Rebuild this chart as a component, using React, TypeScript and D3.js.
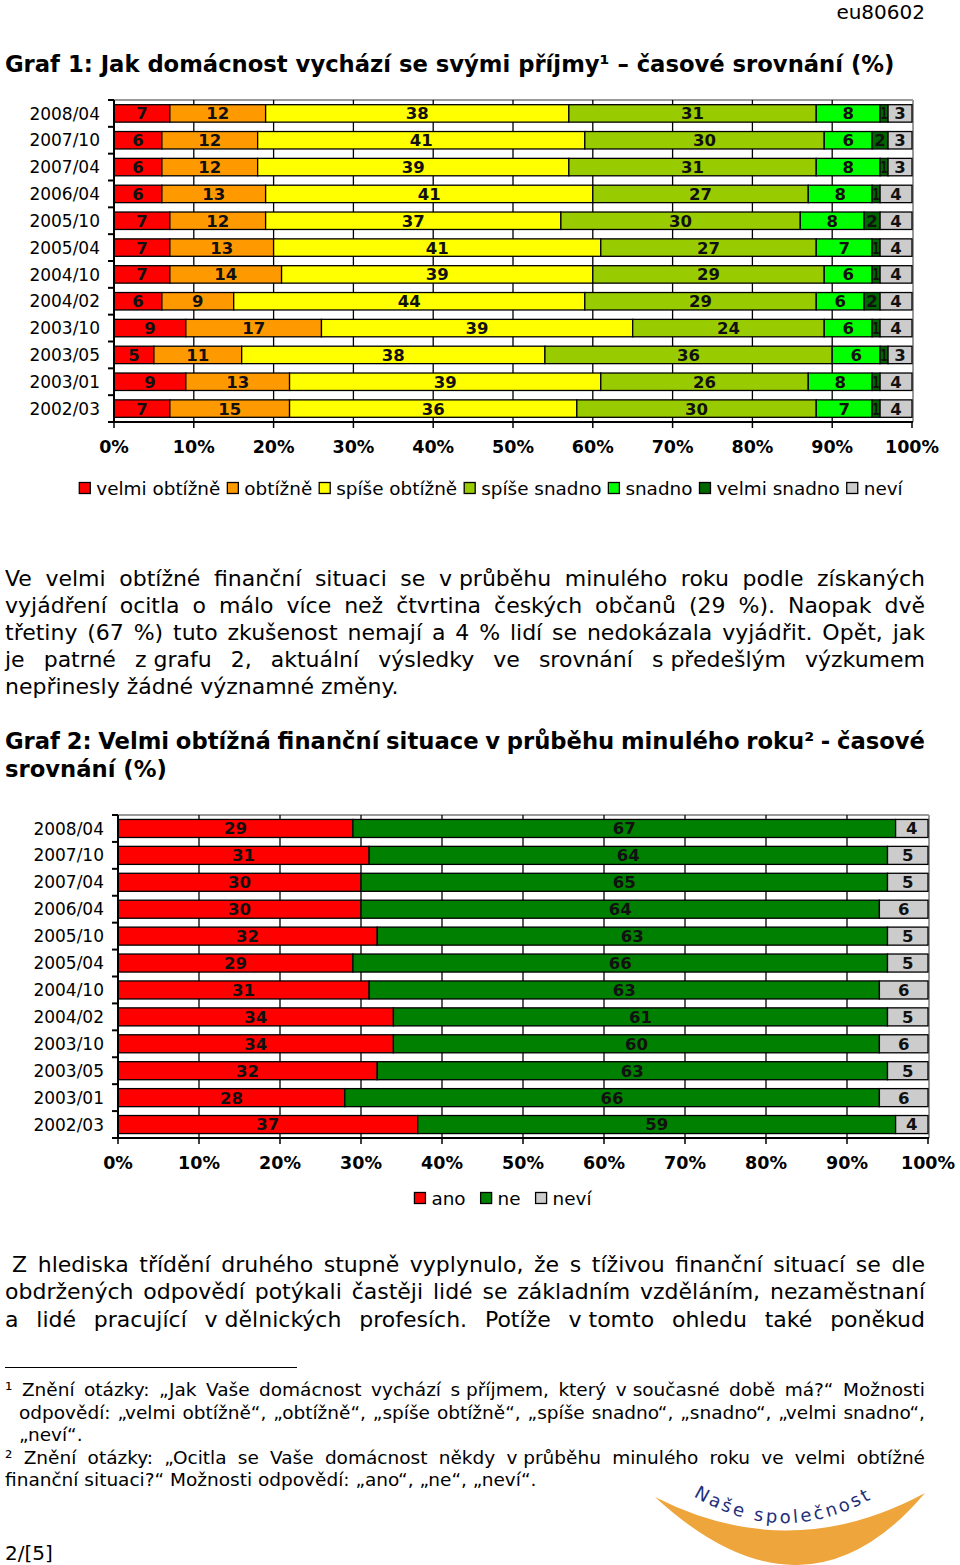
import React from "react";
import * as d3 from "d3";

// ---------------- DATA ----------------
const periods = ["2008/04", "2007/10", "2007/04", "2006/04", "2005/10", "2005/04", "2004/10", "2004/02", "2003/10", "2003/05", "2003/01", "2002/03"];

// Graf 1
const velmiObtizne = [7, 6, 6, 6, 7, 7, 7, 6, 9, 5, 9, 7];
const obtizne = [12, 12, 12, 13, 12, 13, 14, 9, 17, 11, 13, 15];
const spiseObtizne = [38, 41, 39, 41, 37, 41, 39, 44, 39, 38, 39, 36];
const spiseSnadno = [31, 30, 31, 27, 30, 27, 29, 29, 24, 36, 26, 30];
const snadno = [8, 6, 8, 8, 8, 7, 6, 6, 6, 6, 8, 7];
const velmiSnadno = [1, 2, 1, 1, 2, 1, 1, 2, 1, 1, 1, 1];
const nevi1 = [3, 3, 3, 4, 4, 4, 4, 4, 4, 3, 4, 4];
const series1Names = ["velmi obtížně", "obtížně", "spíše obtížně", "spíše snadno", "snadno", "velmi snadno", "neví"];
const series1Colors = ["#ff0000", "#ff9900", "#ffff00", "#99cc00", "#00ff00", "#006600", "#cccccc"];

// Graf 2
const ano = [29, 31, 30, 30, 32, 29, 31, 34, 34, 32, 28, 37];
const ne = [67, 64, 65, 64, 63, 66, 63, 61, 60, 63, 66, 59];
const nevi2 = [4, 5, 5, 6, 5, 5, 6, 5, 6, 5, 6, 4];
const series2Names = ["ano", "ne", "neví"];
const series2Colors = ["#ff0000", "#008000", "#cccccc"];

const xTicks = [0, 10, 20, 30, 40, 50, 60, 70, 80, 90, 100];

// ---------------- TEXT ----------------
const title1 = "Graf 1: Jak domácnost vychází se svými příjmy¹ – časové srovnání (%)";
const para1 = [
  "Ve velmi obtížné finanční situaci se v\u00a0průběhu minulého roku podle získaných",
  "vyjádření ocitla o málo více než čtvrtina českých občanů (29 %). Naopak dvě",
  "třetiny (67 %) tuto zkušenost nemají a 4 % lidí se nedokázala vyjádřit. Opět, jak",
  "je patrné z\u00a0grafu 2, aktuální výsledky ve srovnání s\u00a0předešlým výzkumem",
  "nepřinesly žádné významné změny.",
];
const title2 = ["Graf 2: Velmi obtížná finanční situace v průběhu minulého roku² - časové", "srovnání (%)"];
const para2 = [
  "Z hlediska třídění druhého stupně vyplynulo, že s tíživou finanční situací se dle",
  "obdržených odpovědí potýkali častěji lidé se základním vzděláním, nezaměstnaní",
  "a lidé pracující v\u00a0dělnických profesích. Potíže v\u00a0tomto ohledu také poněkud",
];
const foot1 = [
  "¹ Znění otázky: „Jak Vaše domácnost vychází s\u00a0příjmem, který v\u00a0současné době má?“ Možnosti",
  "odpovědí: „velmi obtížně“, „obtížně“, „spíše obtížně“, „spíše snadno“, „snadno“, „velmi snadno“,",
  "„neví“.",
];
const foot2 = [
  "² Znění otázky: „Ocitla se Vaše domácnost někdy v\u00a0průběhu minulého roku ve velmi obtížné",
  "finanční situaci?“ Možnosti odpovědí: „ano“, „ne“, „neví“.",
];

const FONT = "'DejaVu Sans', Verdana, sans-serif";

let _ctx: CanvasRenderingContext2D | null = null;
function measure(text: string, size: number, weight: string = "normal") {
  if (!_ctx) _ctx = document.createElement("canvas").getContext("2d");
  _ctx!.font = `${weight} ${size}px "DejaVu Sans"`;
  return _ctx!.measureText(text).width;
}

function TextLine({ text, x, y, size, weight = "normal", width }: { text: string; x: number; y: number; size: number; weight?: string; width?: number }) {
  const words = text.split(" ");
  if (!width || words.length < 2) {
    return (
      <text x={x} y={y} fontSize={size} fontWeight={weight} fontFamily={FONT} fill="#000">
        {text}
      </text>
    );
  }
  const ws = words.map((w) => measure(w, size, weight));
  const gap = (width - d3.sum(ws)) / (words.length - 1);
  let cx = x;
  return (
    <g>
      {words.map((w, i) => {
        const el = (
          <text key={i} x={cx} y={y} fontSize={size} fontWeight={weight} fontFamily={FONT} fill="#000">
            {w}
          </text>
        );
        cx += ws[i] + gap;
        return el;
      })}
    </g>
  );
}

type ChartProps = {
  data: number[][];
  names: string[];
  colors: string[];
  x0: number;
  x1: number;
  top: number;
  bottom: number;
  labelRight: number;
  padding: number;
  legendY: number;
  legendCx: number;
  legendGap: number;
};

function StackedChart({ data, names, colors, x0, x1, top, bottom, labelRight, padding, legendY, legendCx, legendGap }: ChartProps) {
  const keys = names.map((_, i) => `s${i}`);
  const rows = periods.map((p, i) => {
    const r: any = { period: p };
    keys.forEach((k, j) => (r[k] = data[j][i]));
    return r;
  });
  const stacked = d3.stack<any>().keys(keys).offset(d3.stackOffsetExpand)(rows);
  const x = d3.scaleLinear().domain([0, 1]).range([x0, x1]);
  const xp = d3.scaleLinear().domain([0, 100]).range([x0, x1]);
  const y = d3.scaleBand<string>().domain(periods).range([top, bottom]).paddingInner(padding).paddingOuter(padding / 2);
  const bh = y.bandwidth();
  const boundaries = d3.range(periods.length + 1).map((i) => top + i * y.step());

  // legend layout
  const lsize = 18.4;
  const items = names.map((n) => ({ n, w: measure(n, lsize) }));
  const total = d3.sum(items, (d) => 11 + 6 + d.w) + legendGap * (items.length - 1);
  let lx = legendCx - total / 2;
  const legendItems = items.map((d, i) => {
    const it = { ...d, x: lx, color: colors[i] };
    lx += 11 + 6 + d.w + legendGap;
    return it;
  });

  return (
    <g>
      {/* plot border (top & right) */}
      <line x1={x0} x2={x1 + 1} y1={top} y2={top} stroke="#9a9a9a" strokeWidth={2} />
      <line x1={x1 + 1} x2={x1 + 1} y1={top} y2={bottom} stroke="#9a9a9a" strokeWidth={2} />
      {/* gridlines */}
      {xTicks.slice(1, -1).map((t) => (
        <line key={t} x1={xp(t)} x2={xp(t)} y1={top} y2={bottom} stroke="#000" strokeWidth={1.3} />
      ))}
      {/* bars */}
      {stacked.map((s, si) =>
        s.map((d, i) => {
          const xa = x(d[0]);
          const xb = x(d[1]);
          const yy = y(periods[i])!;
          return (
            <rect key={`${si}-${i}`} x={xa} y={yy} width={xb - xa} height={bh} fill={colors[si]} stroke="#000" strokeWidth={1.3} />
          );
        })
      )}
      {/* value labels */}
      {stacked.map((s, si) =>
        s.map((d, i) => {
          const xa = x(d[0]);
          const xb = x(d[1]);
          const yy = y(periods[i])! + bh / 2;
          const val = data[si][i];
          const txt = String(val);
          const nat = measure(txt, 16.5, "bold");
          const avail = xb - xa - 1;
          const squeeze = nat > avail;
          return (
            <text
              key={`l${si}-${i}`}
              x={(xa + xb) / 2}
              y={yy}
              dy="0.36em"
              textAnchor="middle"
              fontSize={16.5}
              fontWeight="bold"
              fontFamily={FONT}
              fill="#111"
              {...(squeeze ? { textLength: avail, lengthAdjust: "spacingAndGlyphs" } : {})}
            >
              {txt}
            </text>
          );
        })
      )}
      {/* y axis */}
      <line x1={x0} x2={x0} y1={top} y2={bottom} stroke="#000" strokeWidth={2} />
      {boundaries.map((b, i) => (
        <line key={i} x1={x0 - 6} x2={x0} y1={b} y2={b} stroke="#000" strokeWidth={2} />
      ))}
      {periods.map((p) => (
        <text key={p} x={labelRight} y={y(p)! + bh / 2} dy="0.36em" textAnchor="end" fontSize={17} fontFamily={FONT} fill="#000">
          {p}
        </text>
      ))}
      {/* x axis */}
      <line x1={x0} x2={x1 + 1} y1={bottom} y2={bottom} stroke="#000" strokeWidth={2} />
      {xTicks.map((t) => (
        <line key={t} x1={xp(t)} x2={xp(t)} y1={bottom} y2={bottom + 6} stroke="#000" strokeWidth={1.5} />
      ))}
      {xTicks.map((t) => (
        <text key={t} x={xp(t)} y={bottom + 31} textAnchor="middle" fontSize={17.5} fontWeight="bold" fontFamily={FONT} fill="#000">
          {`${t}%`}
        </text>
      ))}
      {/* legend */}
      {legendItems.map((d) => (
        <g key={d.n}>
          <rect x={d.x} y={legendY - 5.5} width={11} height={11} fill={d.color} stroke="#000" strokeWidth={1.3} />
          <text x={d.x + 17} y={legendY} dy="0.36em" fontSize={lsize} fontFamily={FONT} fill="#000">
            {d.n}
          </text>
        </g>
      ))}
    </g>
  );
}

export default function App() {
  const titleTarget = 890;
  const titleSize = (20 * titleTarget) / measure(title1, 20, "bold");
  const pSize = 22;
  const fSize = 18.5;
  return (
    <svg width={960} height={1565} style={{ position: "absolute", left: 0, top: 0, background: "#fff" }}>
      <rect x={0} y={0} width={960} height={1565} fill="#fff" />
      <text x={925} y={19} textAnchor="end" fontSize={20} fontFamily={FONT} fill="#000">
        eu80602
      </text>
      <TextLine text={title1} x={5} y={72} size={titleSize} weight="bold" />

      <StackedChart
        data={[velmiObtizne, obtizne, spiseObtizne, spiseSnadno, snadno, velmiSnadno, nevi1]}
        names={series1Names}
        colors={series1Colors}
        x0={114}
        x1={912}
        top={100}
        bottom={422}
        labelRight={100}
        padding={0.35}
        legendY={488}
        legendCx={491}
        legendGap={7}
      />

      {para1.map((l, i) => (
        <TextLine key={i} text={l} x={5} y={586 + i * 27} size={pSize} width={i < para1.length - 1 ? 920 : undefined} />
      ))}

      <TextLine text={title2[0]} x={5} y={749} size={titleSize} weight="bold" width={920} />
      <TextLine text={title2[1]} x={5} y={777} size={titleSize} weight="bold" />

      <StackedChart
        data={[ano, ne, nevi2]}
        names={series2Names}
        colors={series2Colors}
        x0={118}
        x1={928}
        top={815}
        bottom={1138}
        labelRight={104}
        padding={0.33}
        legendY={1198}
        legendCx={503}
        legendGap={15}
      />

      {para2.map((l, i) => (
        <TextLine key={i} text={l} x={i === 0 ? 12 : 5} y={1272 + i * 27.3} size={pSize} width={i === 0 ? 913 : 920} />
      ))}

      <line x1={5} x2={297} y1={1367.5} y2={1367.5} stroke="#000" strokeWidth={1.2} />
      <TextLine text={foot1[0]} x={5} y={1396} size={fSize} width={920} />
      <TextLine text={foot1[1]} x={19} y={1418.5} size={fSize} width={906} />
      <TextLine text={foot1[2]} x={19} y={1441} size={fSize} />
      <TextLine text={foot2[0]} x={5} y={1463.5} size={fSize} width={920} />
      <TextLine text={foot2[1]} x={5} y={1486} size={fSize} />

      <text x={5} y={1560} fontSize={20} fontFamily={FONT} fill="#000">
        2/[5]
      </text>

      {/* logo */}
      <path d="M655,1497 Q790,1566 925,1493 Q805,1635 655,1497 Z" fill="#eea53c" />
      <defs>
        <path id="logoArc" d="M690,1494 Q790,1556 892,1486" />
      </defs>
      <text fontSize={18} fontFamily={FONT} fill="#1f2f7a" letterSpacing={3}>
        <textPath href="#logoArc" startOffset="4" textLength={190}>
          Naše společnost
        </textPath>
      </text>
    </svg>
  );
}
